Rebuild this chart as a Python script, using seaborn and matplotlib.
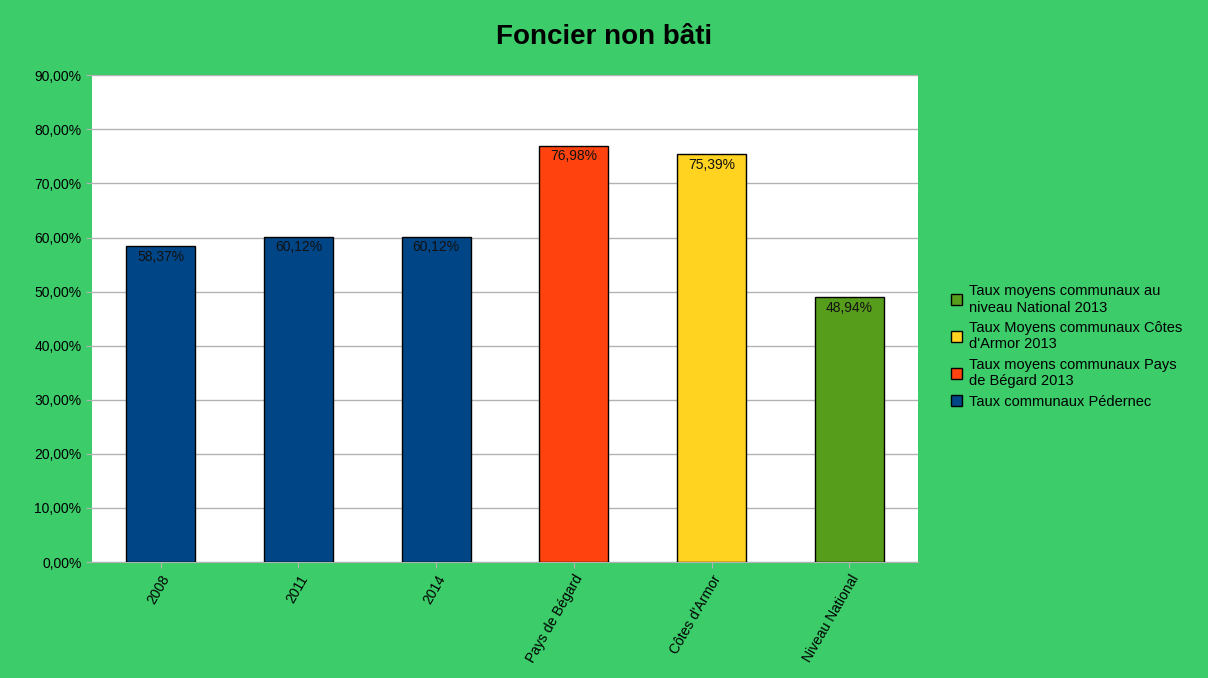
import numpy as np
import pandas as pd
import seaborn as sns
import matplotlib.pyplot as plt
from matplotlib.patches import Patch

categories = ['2008', '2011', '2014', 'Pays de Bégard', "Côtes d'Armor", 'Niveau National']
values = [58.37, 60.12, 60.12, 76.98, 75.39, 48.94]
groups = ['Taux communaux Pédernec', 'Taux communaux Pédernec', 'Taux communaux Pédernec',
          'Taux moyens communaux Pays\nde Bégard 2013',
          'Taux Moyens communaux Côtes\nd\'Armor 2013',
          'Taux moyens communaux au\nniveau National 2013']
group_colors = ['#004586', '#004586', '#004586', '#ff420e', '#ffd320', '#579d1c']

bg = '#3ccc69'
df = pd.DataFrame({'cat': categories, 'val': values, 'grp': groups})

sns.set_style('white')
plt.rcParams['font.family'] = ['Liberation Sans', 'DejaVu Sans']
plt.rcParams['text.color'] = 'black'
plt.rcParams['xtick.labelcolor'] = 'black'
plt.rcParams['ytick.labelcolor'] = 'black'

fig = plt.figure(figsize=(12.08, 6.78), dpi=100, facecolor=bg)
ax = fig.add_axes([0.076, 0.171, 0.684, 0.718])

sns.barplot(data=df, x='cat', y='val', hue='cat', palette=group_colors, width=0.5, saturation=1,
            edgecolor='black', linewidth=1, legend=False, ax=ax, zorder=3)

for p, v in zip(ax.patches, values):
    ax.text(p.get_x() + p.get_width() / 2, p.get_height() - 0.6, f'{v:.2f}%'.replace('.', ','),
            ha='center', va='top', fontsize=10, color='#111111', zorder=4)

ax.set_ylim(0, 90)
ax.set_yticks(np.arange(0, 91, 10))
ax.set_yticklabels([f'{t:.2f}%'.replace('.', ',') for t in np.arange(0, 91, 10)], fontsize=10)
ax.yaxis.grid(True, color='#b3b3b3', linewidth=1, zorder=0)
ax.set_xlim(-0.5, 5.5)
ax.set_xticks(range(len(categories)))
ax.set_xticklabels(categories, rotation=60, ha='right', rotation_mode='anchor', fontsize=10)
ax.tick_params(axis='x', length=4, color='#b3b3b3', bottom=True)
ax.tick_params(axis='y', length=4, color='#b3b3b3', left=True)
ax.set_xlabel('')
ax.set_ylabel('')
for s in ax.spines.values():
    s.set_visible(False)
ax.spines['bottom'].set_visible(True)
ax.spines['bottom'].set_color('#b3b3b3')

fig.suptitle('Foncier non bâti', fontsize=20, fontweight='bold', y=0.965, color='black')

legend_order = [5, 4, 3, 0]
handles = [Patch(facecolor=group_colors[i], edgecolor='black', label=groups[i]) for i in legend_order]
fig.legend(handles=handles, loc='upper left', bbox_to_anchor=(0.776, 0.6), frameon=False,
           fontsize=10.5, handlelength=0.8, handleheight=0.8, handletextpad=0.5, labelspacing=0.45)

fig.savefig('out.png', dpi=100, facecolor=bg)
